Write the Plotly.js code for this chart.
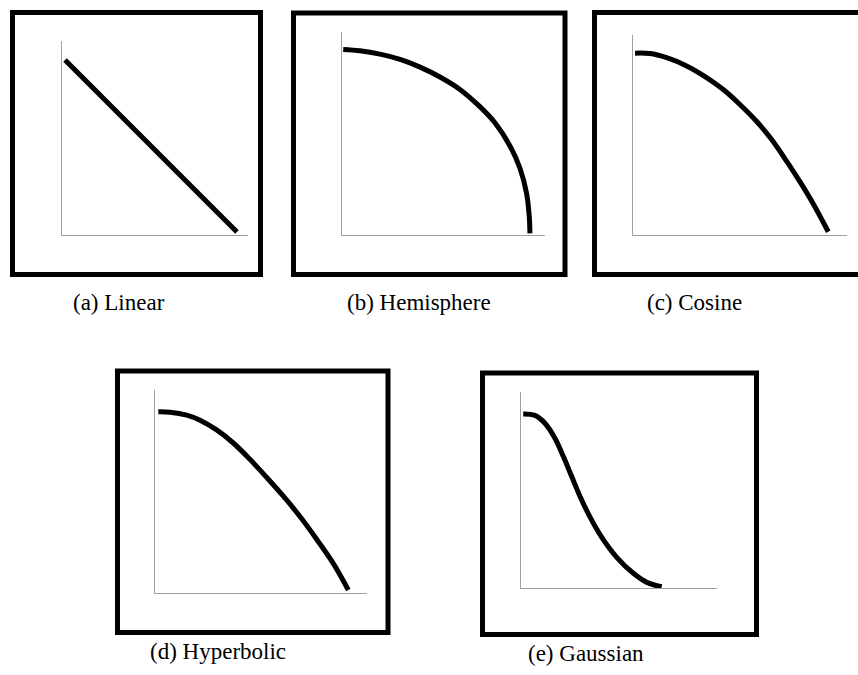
<!DOCTYPE html>
<html>
<head>
<meta charset="utf-8">
<script src="https://cdn.plot.ly/plotly-3.0.1.min.js"></script>
<style>html,body{margin:0;padding:0;background:#fff;}#chart{width:858px;height:675px;}</style>
</head>
<body>
<div id="chart"></div>
<script>
// Panel captions
const captions = ["(a) Linear", "(b) Hemisphere", "(c) Cosine", "(d) Hyperbolic", "(e) Gaussian"];

// (a) Linear falloff
const linearX = [0.019, 1.0];
const linearY = [1.0, 0.017];

// (b) Hemisphere falloff
const hemiX = [0.008, 0.097, 0.203, 0.310, 0.416, 0.522, 0.628, 0.734, 0.814, 0.894, 0.947, 0.982, 0.996, 1.0];
const hemiY = [1.0, 0.993, 0.975, 0.947, 0.905, 0.852, 0.785, 0.692, 0.605, 0.480, 0.360, 0.225, 0.105, 0.009];

// (c) Cosine falloff
const cosX = [0.009, 0.085, 0.170, 0.272, 0.374, 0.459, 0.544, 0.630, 0.706, 0.783, 0.851, 0.918, 0.995];
const cosY = [1.0, 0.998, 0.975, 0.930, 0.866, 0.800, 0.718, 0.624, 0.525, 0.405, 0.292, 0.172, 0.018];

// (d) Hyperbolic falloff
const hypX = [0.017, 0.078, 0.164, 0.233, 0.319, 0.405, 0.491, 0.578, 0.664, 0.750, 0.836, 0.922, 1.0];
const hypY = [1.0, 0.998, 0.982, 0.954, 0.900, 0.828, 0.738, 0.638, 0.535, 0.423, 0.298, 0.165, 0.018];

// (e) Gaussian falloff
const gaussX = [0.018, 0.101, 0.172, 0.243, 0.302, 0.362, 0.421, 0.491, 0.574, 0.681, 0.799, 0.894, 1.0];
const gaussY = [1.0, 0.992, 0.947, 0.861, 0.757, 0.641, 0.527, 0.410, 0.294, 0.178, 0.086, 0.034, 0.009];

const W = 858, H = 675;
const px = v => v / W;
const py = v => 1 - v / H;

// panel geometry in pixels: axis origin/extent, ranges, border box, caption position
const panels = [
  {x: linearX, y: linearY, ax: [61.7, 248], ay: [40.7, 235], xr: 1.063, yr: 1.110, box: [12.5, 12.5, 260.5, 274.5], cap: [119, 302]},
  {x: hemiX, y: hemiY, ax: [341.7, 545], ay: [31.7, 235], xr: 1.080, yr: 1.096, box: [293.5, 13, 565, 274.5], cap: [419, 302]},
  {x: cosX, y: cosY, ax: [633.3, 846.7], ay: [35, 235], xr: 1.089, yr: 1.100, box: [594.5, 12.5, 880, 274.5], cap: [694, 302]},
  {x: hypX, y: hypY, ax: [155, 366.7], ay: [390, 593.3], xr: 1.095, yr: 1.120, box: [117.5, 371, 388, 632.5], cap: [217.5, 651]},
  {x: gaussX, y: gaussY, ax: [520.7, 716.7], ay: [391.7, 588.3], xr: 1.390, yr: 1.128, box: [482.5, 373, 756.5, 634.5], cap: [586, 653]}
];

const traces = [];
const layout = {
  width: W, height: H,
  margin: {l: 0, r: 0, t: 0, b: 0},
  paper_bgcolor: "#ffffff",
  plot_bgcolor: "rgba(0,0,0,0)",
  showlegend: false,
  shapes: [],
  annotations: []
};

panels.forEach((p, i) => {
  const n = i === 0 ? "" : String(i + 1);
  traces.push({
    type: "scatter", mode: "lines",
    x: p.x, y: p.y,
    xaxis: "x" + n, yaxis: "y" + n,
    line: {color: "#000000", width: 5, shape: "spline", smoothing: 1},
    hoverinfo: "skip"
  });
  const common = {
    showline: true, linecolor: "#a0a0a0", linewidth: 1,
    showgrid: false, zeroline: false, showticklabels: false, ticks: "",
    fixedrange: true
  };
  layout["xaxis" + n] = Object.assign({}, common, {
    domain: [px(p.ax[0]), px(p.ax[1])], range: [0, p.xr], anchor: "y" + n
  });
  layout["yaxis" + n] = Object.assign({}, common, {
    domain: [py(p.ay[1]), py(p.ay[0])], range: [0, p.yr], anchor: "x" + n
  });
  layout.shapes.push({
    type: "rect", xref: "paper", yref: "paper",
    x0: px(p.box[0]), x1: px(p.box[2]), y0: py(p.box[3]), y1: py(p.box[1]),
    line: {color: "#000000", width: 5}, fillcolor: "rgba(0,0,0,0)"
  });
  layout.annotations.push({
    text: captions[i], xref: "paper", yref: "paper",
    x: px(p.cap[0]), y: py(p.cap[1]), xanchor: "center", yanchor: "middle",
    showarrow: false,
    font: {family: "Liberation Serif", size: 23, color: "#000000"}
  });
});

Plotly.newPlot("chart", traces, layout, {staticPlot: true, displayModeBar: false});
</script>
</body>
</html>
